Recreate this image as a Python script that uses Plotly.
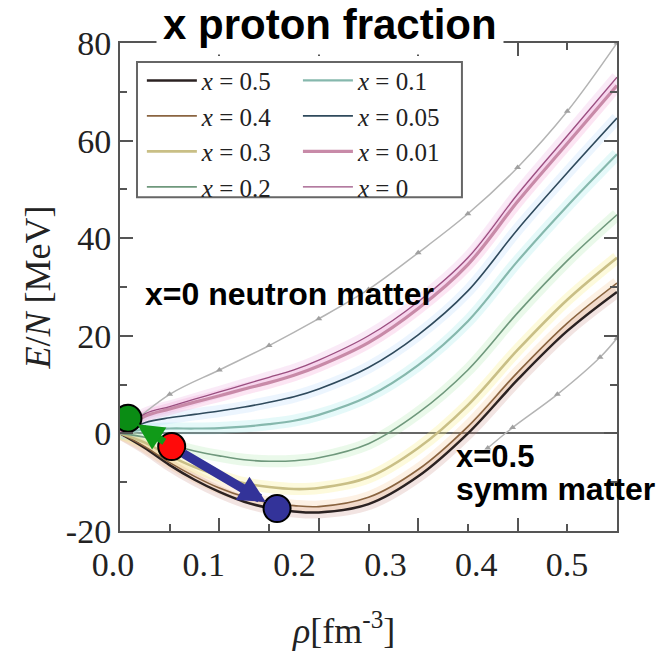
import plotly.graph_objects as go

# density grid [fm^-3]
rho = [0, 0.025, 0.05, 0.075, 0.1, 0.125, 0.15, 0.175, 0.2, 0.25, 0.3, 0.35, 0.4, 0.45, 0.5]

# E/N [MeV] for each proton fraction
E_x050 = [0, -3.0, -6.5, -9.5, -12.0, -14.0, -15.3, -16.0, -16.2, -14.5, -8.8, 0.0, 11.0, 21.0, 29.0]
E_x040 = [0, -2.7, -6.0, -8.8, -11.2, -13.0, -14.2, -14.8, -15.0, -13.1, -7.4, 1.4, 12.5, 22.6, 30.8]
E_x030 = [0, -1.9, -4.6, -6.9, -8.7, -10.2, -11.0, -11.4, -11.2, -9.0, -3.0, 5.8, 17.1, 27.4, 36.0]
E_x020 = [0, -0.8, -2.2, -3.6, -4.6, -5.4, -5.7, -5.6, -5.0, -2.1, 4.2, 13.0, 24.7, 35.4, 44.8]
E_x010 = [0, 0.8, 1.0, 1.0, 1.1, 1.4, 1.9, 2.6, 3.8, 7.6, 14.0, 23.0, 35.3, 46.6, 57.2]
E_x005 = [0, 2.2, 3.2, 3.9, 4.6, 5.4, 6.4, 7.5, 9.1, 13.5, 20.2, 29.2, 41.8, 53.4, 64.6]
E_x001 = [0, 3.5, 5.0, 6.4, 7.7, 9.1, 10.4, 11.9, 13.8, 18.6, 25.6, 34.6, 47.5, 59.4, 71.3]
E_x000 = [0, 4.0, 5.5, 7.0, 8.5, 10.0, 11.5, 13.0, 15.0, 20.0, 27.0, 36.0, 49.0, 61.0, 73.0]

# faint grey reference curves
grey_up_rho = [0.0, 0.05, 0.1, 0.15, 0.2, 0.25, 0.3, 0.35, 0.4, 0.45, 0.5]
grey_up_E = [0, 8, 13, 18, 23.5, 29.5, 37, 45, 54.5, 66, 80]
grey_lo_rho = [0.37, 0.395, 0.44, 0.483, 0.5]
grey_lo_E = [-3, 1.2, 8, 15.6, 19.5]

labels_col1 = ["0.5", "0.4", "0.3", "0.2"]
labels_col2 = ["0.1", "0.05", "0.01", "0"]
series_col1 = [E_x050, E_x040, E_x030, E_x020]
series_col2 = [E_x010, E_x005, E_x001, E_x000]
colors_col1 = ["#2b2222", "#8a6440", "#c9bf86", "#6f987c"]
colors_col2 = ["#86b8ad", "#2f4a5c", "#c88aa8", "#9a4f80"]
halo_col1 = ["rgba(190,120,110,0.20)", "rgba(240,170,90,0.16)", "rgba(250,240,140,0.30)", "rgba(170,230,170,0.25)"]
halo_col2 = ["rgba(150,230,230,0.25)", "rgba(170,210,250,0.22)", "rgba(245,170,215,0.30)", "rgba(230,160,220,0.22)"]
widths_col1 = [2.5, 1.6, 2.6, 1.6]
widths_col2 = [2.2, 1.6, 3.2, 1.3]

# points and arrows
dot_rho = [0.008, 0.052, 0.158]
dot_E = [3.1, -2.7, -15.4]
dot_colors = ["#0a8c14", "#ff0a0a", "#333399"]

x_tick_vals = [0.0, 0.1, 0.2, 0.3, 0.4, 0.5]
x_tick_text = ["0.0", "0.1", "0.2", "0.3", "0.4", "0.5"]
y_tick_vals = [-20, 0, 20, 40, 60, 80]
y_tick_text = ["-20", "0", "20", "40", "60", "80"]

fig = go.Figure()

serif = "Liberation Serif, Times New Roman, serif"
sans = "Liberation Sans, Arial, sans-serif"

# halos
for E, hc in zip(series_col1 + series_col2, halo_col1 + halo_col2):
    fig.add_trace(go.Scatter(x=rho, y=E, mode="lines", line=dict(color=hc, width=12, shape="spline"),
                             showlegend=False, hoverinfo="skip"))

# grey reference curves
fig.add_trace(go.Scatter(x=grey_up_rho, y=grey_up_E, mode="lines+markers",
                         line=dict(color="#b4b4b4", width=1.5, shape="spline"),
                         marker=dict(symbol="triangle-up", size=6, color="#a0a0a0"),
                         showlegend=False, hoverinfo="skip"))
fig.add_trace(go.Scatter(x=grey_lo_rho, y=grey_lo_E, mode="lines+markers",
                         line=dict(color="#b4b4b4", width=1.5, shape="spline"),
                         marker=dict(symbol="triangle-up", size=6, color="#a0a0a0"),
                         showlegend=False, hoverinfo="skip"))

for lab, E, c, w in zip(labels_col1, series_col1, colors_col1, widths_col1):
    fig.add_trace(go.Scatter(x=rho, y=E, mode="lines", name="<i>x</i> = " + lab,
                             line=dict(color=c, width=w, shape="spline"), legend="legend"))
for lab, E, c, w in zip(labels_col2, series_col2, colors_col2, widths_col2):
    fig.add_trace(go.Scatter(x=rho, y=E, mode="lines", name="<i>x</i> = " + lab,
                             line=dict(color=c, width=w, shape="spline"), legend="legend2"))

# empty trace on the tick-label axis
fig.add_trace(go.Scatter(x=x_tick_vals, y=[None] * len(x_tick_vals), xaxis="x2", yaxis="y",
                         mode="markers", showlegend=False, hoverinfo="skip"))

# arrows
fig.add_annotation(x=dot_rho[2], y=dot_E[2], ax=dot_rho[1], ay=dot_E[1], xref="x", yref="y",
                   axref="x", ayref="y", text="", showarrow=True, arrowhead=2, arrowsize=0.6,
                   arrowwidth=9, arrowcolor="#333399", standoff=13, startstandoff=12)
fig.add_annotation(x=dot_rho[0], y=dot_E[0], ax=dot_rho[1], ay=dot_E[1], xref="x", yref="y",
                   axref="x", ayref="y", text="", showarrow=True, arrowhead=2, arrowsize=0.75,
                   arrowwidth=7, arrowcolor="#109a18", standoff=11, startstandoff=7)

fig.add_trace(go.Scatter(x=dot_rho, y=dot_E, mode="markers",
                         marker=dict(size=27, color=dot_colors, line=dict(color="black", width=2)),
                         showlegend=False, hoverinfo="skip"))

# texts
fig.add_annotation(text="<b>x proton fraction</b>", xref="paper", yref="paper", x=0.4225, y=1.037,
                   showarrow=False, font=dict(family=sans, size=42, color="black"),
                   bgcolor="white", borderpad=6, xanchor="center", yanchor="middle")
fig.add_annotation(text="<b>x=0 neutron matter</b>", xref="paper", yref="paper", x=0.046, y=0.4857,
                   showarrow=False, font=dict(family=sans, size=32, color="black"),
                   xanchor="left", yanchor="middle")
fig.add_annotation(text="<b>x=0.5</b>", xref="paper", yref="paper", x=0.672, y=0.153,
                   showarrow=False, font=dict(family=sans, size=31, color="black"),
                   xanchor="left", yanchor="middle")
fig.add_annotation(text="<b>symm matter</b>", xref="paper", yref="paper", x=0.672, y=0.086,
                   showarrow=False, font=dict(family=sans, size=32, color="black"),
                   xanchor="left", yanchor="middle")
fig.add_annotation(text="<i>ρ</i>[fm<sup>-3</sup>]", xref="paper", yref="paper", x=0.45, y=-0.2,
                   showarrow=False, font=dict(family=serif, size=36, color="#222"),
                   xanchor="center", yanchor="middle")

# legend frame
fig.add_shape(type="rect", xref="paper", yref="paper", x0=0.0342, x1=0.688, y0=0.684, y1=0.961,
              line=dict(color="#666", width=2), fillcolor="rgba(0,0,0,0)", layer="above")

axis_line = "#555"
fig.update_layout(
    width=657, height=652,
    margin=dict(l=120, r=40, t=43, b=121),
    paper_bgcolor="white", plot_bgcolor="white",
    showlegend=True,
    legend=dict(x=0.044, y=0.97, xanchor="left", yanchor="top", bgcolor="rgba(0,0,0,0)",
                font=dict(family=serif, size=25, color="#222"), borderwidth=0,
                tracegroupgap=0, itemwidth=50),
    legend2=dict(x=0.358, y=0.97, xanchor="left", yanchor="top", bgcolor="rgba(0,0,0,0)",
                 font=dict(family=serif, size=25, color="#222"), borderwidth=0,
                 tracegroupgap=0, itemwidth=50),
    xaxis=dict(range=[0, 0.5], showline=True, mirror="ticks", linecolor=axis_line, linewidth=2,
               ticks="inside", ticklen=13, tickwidth=2, tickcolor=axis_line, dtick=0.1,
               showticklabels=False, showgrid=False, zeroline=False,
               minor=dict(ticks="inside", ticklen=7, dtick=0.05, tickcolor=axis_line, tickwidth=2)),
    xaxis2=dict(overlaying="x", anchor="y", side="bottom", range=[-0.0033, 0.544],
                tickvals=x_tick_vals, ticktext=x_tick_text, showline=False, ticks="",
                showgrid=False, zeroline=False, ticklabelstandoff=10, ticklabelshift=-10,
                tickfont=dict(family=serif, size=34, color="#222")),
    yaxis=dict(range=[-20, 80], showline=True, mirror="ticks", linecolor=axis_line, linewidth=2,
               ticks="inside", ticklen=13, tickwidth=2, tickcolor=axis_line,
               tickvals=y_tick_vals, ticktext=y_tick_text,
               showgrid=False, zeroline=True, zerolinecolor="#666", zerolinewidth=2,
               tickfont=dict(family=serif, size=34, color="#222"), ticklabelstandoff=0,
               minor=dict(ticks="inside", ticklen=7, dtick=10, tickcolor=axis_line, tickwidth=2),
               title=dict(text="<i>E</i>/<i>N</i> [MeV]", font=dict(family=serif, size=36, color="#222"),
                          standoff=4)),
)

fig.write_html("out.html")
